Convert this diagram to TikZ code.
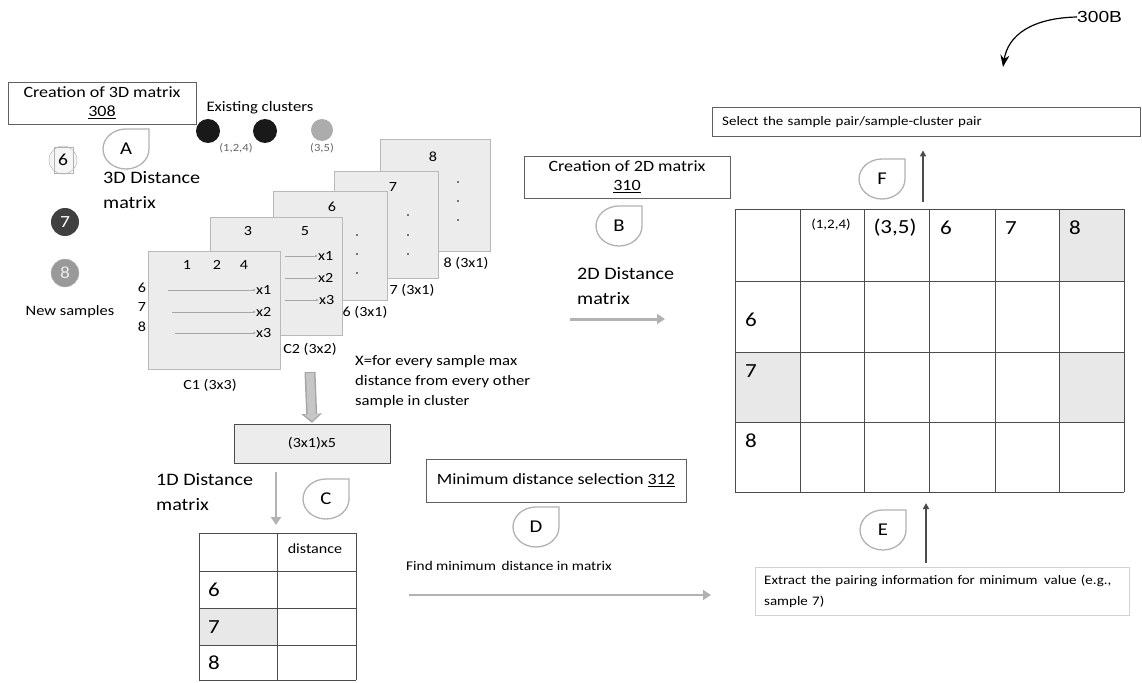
\documentclass[tikz,border=0pt]{standalone}
\usepackage{fontspec}
\setmainfont{Carlito}[FakeStretch=1.15]
\newfontfamily\reffont{Liberation Sans}[FakeStretch=1.2]
\usetikzlibrary{arrows.meta}

\tikzset{
  stepbox/.style={draw=gray!75!black, fill=white, inner sep=0pt, align=center},
  mat/.style={draw=gray!55, fill=gray!15, inner sep=0pt, outer sep=0pt},
  lbl/.style={inner sep=0pt, font=\fontsize{14}{16}\selectfont},
  tiny/.style={inner sep=0pt, font=\fontsize{11}{13}\selectfont},
  big/.style={inner sep=0pt, font=\fontsize{17.5}{25}\selectfont},
  digit/.style={inner sep=0pt, font=\fontsize{20}{22}\selectfont},
  tag/.style={minimum width=48pt, minimum height=42pt, inner sep=0pt,
    font=\fontsize{18}{20}\selectfont,
    path picture={
      \draw[gray!60, line width=1.3pt]
        ([xshift=-1pt]path picture bounding box.east)
        arc[start angle=0, end angle=-270, x radius=23pt, y radius=20pt]
        -| ([xshift=-1pt]path picture bounding box.east) -- cycle;
    }},
  pin/.style={gray!70, line width=0.5pt, -{Latex[length=3pt,width=2.5pt]}},
  flow/.style={gray!60, -{Triangle[length=8pt,width=10pt]}},
  gridline/.style={gray!60!black, line width=0.7pt},
}

\begin{document}
\begin{tikzpicture}[x=1pt, y=1pt]
\useasboundingbox (0,0) rectangle (1142,-682);

% step 308: 3D matrix
\node[stepbox, minimum width=188pt, minimum height=42pt,
      font=\fontsize{15.7}{19}\selectfont] (step308) at (102,-103)
  {Creation of 3D matrix\\ \underline{308}};
\node[tag] (tagA) at (126,-149) {A};
\node[big, anchor=north west, align=left] (dist3d) at (103,-171)
  {3D Distance\\ matrix};

% existing clusters
\node[inner sep=0pt, font=\fontsize{14.5}{16}\selectfont] (exist) at (260,-108) {Existing clusters};
\node[circle, fill=black!90, minimum size=24pt, inner sep=0pt] (cl1) at (208,-131) {};
\node[circle, fill=black!90, minimum size=24pt, inner sep=0pt] (cl2) at (265,-131) {};
\node[circle, fill=gray!65, minimum size=22pt, inner sep=0pt] (cl3) at (322,-130) {};
\node[tiny, text=gray!80!black] (cl12) at (236,-148) {(1,2,4)};
\node[tiny, text=gray!80!black] (cl35) at (322,-148) {(3,5)};

% new samples
\node[circle, draw=gray!70, fill=gray!8, minimum size=28pt, inner sep=0pt,
      font=\fontsize{17}{17}\selectfont] (s6) at (63,-160) {6};
\draw[gray!60] (54,-147) rectangle (73,-173);
\node[circle, fill=black!75, minimum size=28pt, inner sep=0pt, text=white,
      font=\fontsize{17}{17}\selectfont] (s7) at (65,-222) {7};
\node[circle, draw=gray!50, fill=gray!80, minimum size=28pt, inner sep=0pt, text=gray!15,
      font=\fontsize{17}{17}\selectfont] (s8) at (65,-273) {8};
\node[inner sep=0pt, font=\fontsize{14.3}{16}\selectfont] (newsmp) at (70,-312) {New samples};

% stack of distance matrices, back to front
\node[mat, minimum width=110pt, minimum height=112pt] (m8) at (435,-195) {};
\node[lbl] at (433,-157) {8};
\foreach \y in {182,201,220} \fill (458,-\y) circle (0.9pt);
\node[lbl] (m8n) at (466,-263) {8 (3x1)};

\node[mat, minimum width=104pt, minimum height=107pt] (m7) at (386,-224.5) {};
\node[lbl] at (393,-187) {7};
\foreach \y in {215,235,254} \fill (408,-\y) circle (0.9pt);
\node[lbl] (m7n) at (412,-290) {7 (3x1)};

\node[mat, minimum width=114pt, minimum height=109pt] (m6) at (330,-245.5) {};
\node[lbl] at (332,-207) {6};
\foreach \y in {235,254,273} \fill (357,-\y) circle (0.9pt);
\node[lbl] (m6n) at (365,-312) {6 (3x1)};

\node[mat, minimum width=132pt, minimum height=118pt] (c2) at (276,-276) {};
\node[lbl] at (248,-231) {3};
\node[lbl] at (305,-231) {5};
\node[lbl, anchor=west] (c2x1) at (318,-256) {x1};
\node[lbl, anchor=west] (c2x2) at (318,-278) {x2};
\node[lbl, anchor=west] (c2x3) at (319,-300) {x3};
\draw[pin] ([xshift=-33pt]c2x1.west) -- (c2x1.west);
\draw[pin] ([xshift=-33pt]c2x2.west) -- (c2x2.west);
\draw[pin] ([xshift=-34pt]c2x3.west) -- (c2x3.west);
\node[lbl] (c2n) at (310,-349) {C2 (3x2)};

\node[mat, minimum width=132pt, minimum height=118pt] (c1) at (214,-310) {};
\node[lbl] at (187,-265) {1};
\node[lbl] at (217,-265) {2};
\node[lbl] at (244,-265) {4};
\node[lbl] at (142,-288) {6};
\node[lbl] at (142,-307) {7};
\node[lbl] at (142,-327) {8};
\node[lbl, anchor=west] (c1x1) at (256,-290) {x1};
\node[lbl, anchor=west] (c1x2) at (256,-312) {x2};
\node[lbl, anchor=west] (c1x3) at (256,-333) {x3};
\draw[pin] ([xshift=-88pt]c1x1.west) -- (c1x1.west);
\draw[pin] ([xshift=-84pt]c1x2.west) -- (c1x2.west);
\draw[pin] ([xshift=-81pt]c1x3.west) -- (c1x3.west);
\node[lbl] (c1n) at (210,-385) {C1 (3x3)};

\node[inner sep=0pt, anchor=north west, align=left,
      font=\fontsize{14.5}{20}\selectfont] (maxnote) at (355,-355)
  {X=for every sample max\\ distance from every other\\ sample in cluster};

% 1D matrix
\node[stepbox, fill=gray!15, draw=gray!60!black, minimum width=156pt, minimum height=39pt,
      font=\fontsize{14}{16}\selectfont] (mat1d) at (312,-443.5) {(3x1)x5};
\coordinate (c1out) at (310,-372);
\draw[gray!70, line width=11pt, -{Triangle[length=9pt,width=20pt]}] (c1out) -- ([yshift=1pt]mat1d.north);
\draw[gray!45, line width=8pt, -{Triangle[length=6.5pt,width=15pt]}] ([yshift=-1pt]c1out) -- ([yshift=3pt]mat1d.north);

\node[big, anchor=north west, align=left] (dist1d) at (156,-473) {1D Distance\\ matrix};
\node[tag] (tagC) at (326,-499) {C};
\coordinate (t1top) at (276,-533);
\draw[flow, line width=2.5pt] ([yshift=-9pt]mat1d.south -| t1top) -- ([yshift=8pt]t1top);

% 1D table
\fill[gray!18] (199,-608) rectangle (277,-645);
\foreach \x in {199,277,356} \draw[gridline] (\x,-533) -- (\x,-680);
\foreach \y in {533,571,608,645,680} \draw[gridline] (199,-\y) -- (356,-\y);
\node[inner sep=0pt, font=\fontsize{14}{16}\selectfont] (t1d) at (315,-549) {distance};
\node[digit, anchor=west] (t16) at (208,-590) {6};
\node[digit, anchor=west] (t17) at (208,-627) {7};
\node[digit, anchor=west] (t18) at (208,-663) {8};

% step 312: minimum distance
\node[stepbox, minimum width=260pt, minimum height=43pt,
      font=\fontsize{15.7}{18}\selectfont] (step312) at (556,-480.5)
  {Minimum distance selection \underline{312}};
\node[tag] (tagD) at (536,-527) {D};
\node[inner sep=0pt, anchor=west, font=\fontsize{13.3}{15}\selectfont] (findmin) at (406,-566)
  {Find minimum\, distance in matrix};

% step 310: 2D matrix
\node[stepbox, minimum width=206pt, minimum height=42pt,
      font=\fontsize{15.7}{19}\selectfont] (step310) at (627,-177)
  {Creation of 2D matrix\\ \underline{310}};
\node[tag] (tagB) at (619,-226) {B};
\node[big, anchor=north west, align=left] (dist2d) at (577,-267) {2D Distance\\ matrix};
\coordinate (d2in) at (665,-319);
\draw[flow, line width=3pt] ([xshift=-95pt]d2in) -- (d2in);

% 2D grid
\fill[gray!18] (1059,-209) rectangle (1124,-281);
\fill[gray!18] (735,-352) rectangle (800,-422);
\fill[gray!18] (1059,-352) rectangle (1124,-422);
\foreach \x in {735,800,864,929,995,1059,1124} \draw[gridline] (\x,-209) -- (\x,-492);
\foreach \y in {209,281,352,422,492} \draw[gridline] (735,-\y) -- (1124,-\y);
\coordinate (gtop) at (923,-209);
\coordinate (gbot) at (926,-492);
\node[inner sep=0pt, font=\fontsize{13}{15}\selectfont] (h124) at (831,-225) {(1,2,4)};
\node[digit] (h35) at (895,-228) {(3,5)};
\node[digit, anchor=west] (h6) at (940,-228) {6};
\node[digit, anchor=west] (h7) at (1005,-228) {7};
\node[digit, anchor=west] (h8) at (1069,-228) {8};
\node[digit, anchor=west] (r6) at (745,-320) {6};
\node[digit, anchor=west] (r7) at (745,-371) {7};
\node[digit, anchor=west] (r8) at (745,-441) {8};

% select pair
\node[draw=gray!75!black, inner xsep=10pt, inner ysep=0pt, minimum height=29pt,
      text width=408pt, align=left, anchor=north west,
      font=\fontsize{13}{15}\selectfont] (select) at (712,-107)
  {Select the sample pair/sample-cluster pair};
\node[tag] (tagF) at (882,-179) {F};
\draw[black!70, line width=1.5pt, -{Triangle[length=6pt,width=6pt]}]
  ([yshift=7pt]gtop) -- ([yshift=-14pt]select.south -| gtop);

% extract pairing
\node[draw=gray!35, inner xsep=9pt, inner ysep=0pt, minimum height=48pt,
      text width=356pt, align=left, anchor=north west,
      font=\fontsize{13}{21}\selectfont] (extract) at (755,-567)
  {Extract the pairing information for minimum\, value (e.g.,\\ sample 7)};
\node[tag] (tagE) at (883,-530) {E};
\draw[black!70, line width=1.5pt, -{Triangle[length=6pt,width=6pt]}]
  ([yshift=4pt]extract.north -| gbot) -- ([yshift=-11pt]gbot);
\coordinate (exin) at (711,-595);
\draw[flow, line width=2pt] ([xshift=-302pt]exin) -- (exin);

% figure reference
\node[inner sep=0pt, anchor=west, font=\reffont\fontsize{16}{16}\selectfont] (ref) at (1077,-17) {300B};
\coordinate (refend) at (1003,-67);
\draw[line width=1.2pt, -{Stealth[length=12pt,width=9pt]}]
  (ref.west) .. controls (1032,-18) and (1008,-35) .. (refend);
\end{tikzpicture}
\end{document}
